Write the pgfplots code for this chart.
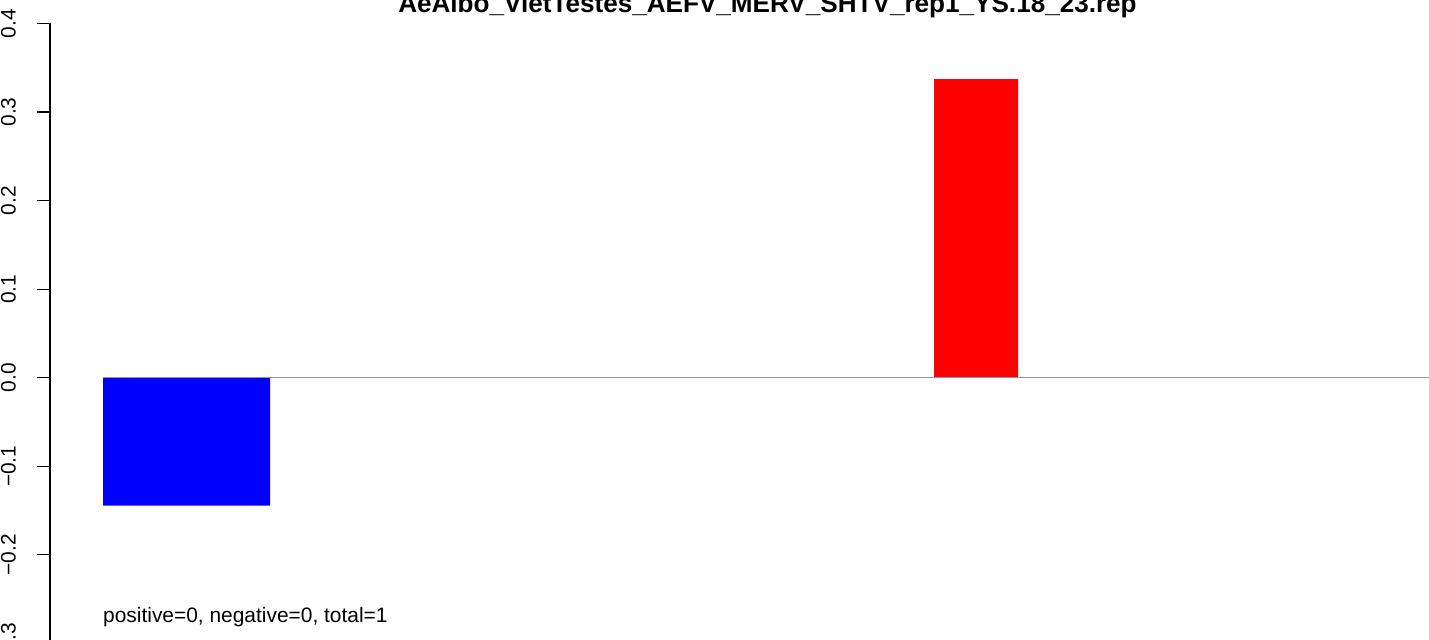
\documentclass[border=0pt]{standalone}
\usepackage{fontspec}
\setmainfont{Liberation Sans}
\usepackage{pgfplots}
\pgfplotsset{compat=1.18}
\begin{document}
\begin{tikzpicture}[x=1bp,y=1bp]
\useasboundingbox (0,0) rectangle (1429,640);
\begin{axis}[
  at={(50bp,616.5bp)}, anchor=north west,
  x=1bp, y=885.5bp,
  xmin=50, xmax=1500, ymin=-0.35, ymax=0.4,
  axis x line=none,
  axis y line*=left,
  y axis line style={-, line width=1.1bp, black},
  ytick={-0.3,-0.2,-0.1,0,0.1,0.2,0.3,0.4},
  yticklabels={−0.3,−0.2,−0.1,0.0,0.1,0.2,0.3,0.4},
  tick align=outside,
  major tick length=13bp,
  tick style={line width=1.1bp, black},
  yticklabel style={font=\fontsize{21}{25}\selectfont, xshift=-21.5bp, rotate=90, anchor=base},
  clip=false,
]
\addplot[fill=blue, draw=none] coordinates {(103,0) (103,-0.1446) (270,-0.1446) (270,0)} \closedcycle;
\addplot[fill=red, draw=none] coordinates {(934,0) (934,0.3373) (1018,0.3373) (1018,0)} \closedcycle;
\addplot[draw={rgb,255:red,150;green,150;blue,150}, line width=1.4bp] coordinates {(103,0) (1440,0)};
\end{axis}
\node[anchor=base, font=\fontsize{26.2}{30}\selectfont\bfseries, inner sep=0pt] at (767.5,627) {AeAlbo\_VietTestes\_AEFV\_MERV\_SHTV\_rep1\_YS.18\_23.rep};
\node[anchor=base west, font=\fontsize{21}{25}\selectfont, inner sep=0pt] at (103,17) {positive=0, negative=0, total=1};
\end{tikzpicture}
\end{document}
